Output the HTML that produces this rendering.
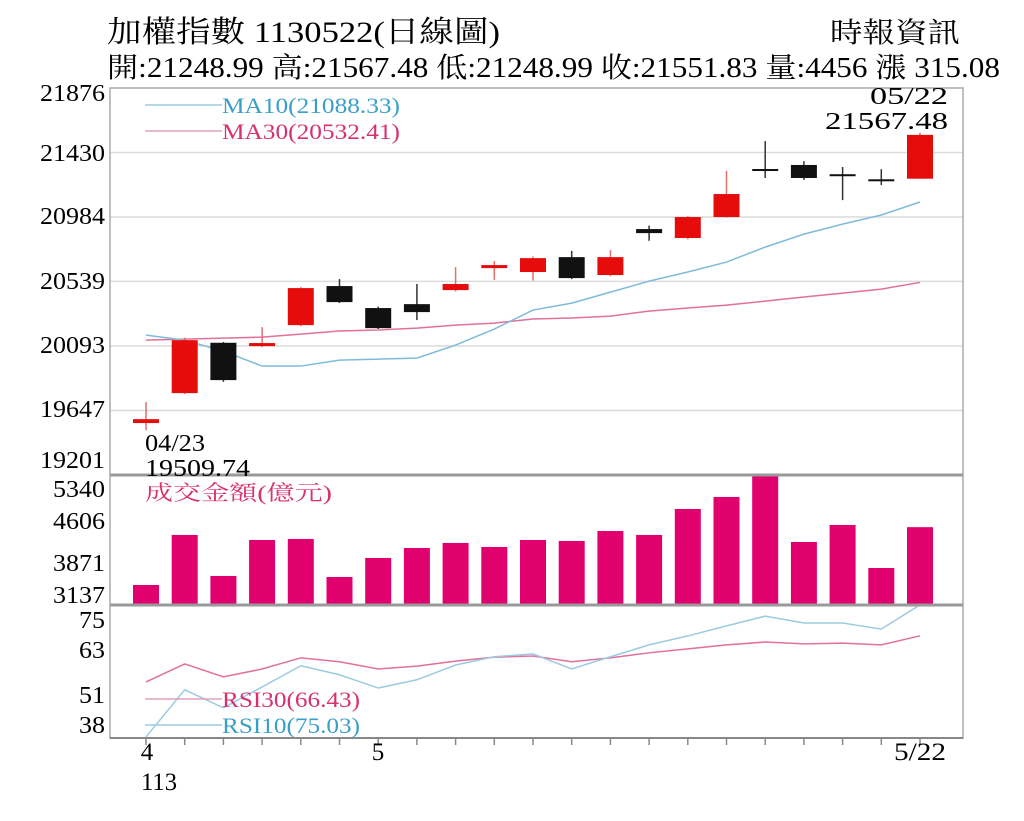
<!DOCTYPE html>
<html><head><meta charset="utf-8"><style>
html,body{margin:0;padding:0;background:#fff;}
svg{display:block;font-family:"Liberation Serif","Noto Serif CJK SC","Noto Sans CJK TC",serif;}
</style></head><body>
<svg id="c" width="1024" height="821" viewBox="0 0 1024 821" xmlns="http://www.w3.org/2000/svg">
<text x="107" y="42" font-size="30" textLength="393" lengthAdjust="spacingAndGlyphs">加權指數 1130522(日線圖)</text>
<text x="830" y="42" font-size="28" textLength="130" lengthAdjust="spacingAndGlyphs">時報資訊</text>
<text x="107" y="77" font-size="28" textLength="893" lengthAdjust="spacingAndGlyphs">開:21248.99 高:21567.48 低:21248.99 收:21551.83 量:4456 漲 315.08</text>
<g id="grid"></g>
<g id="marks"></g>
<g id="frame"></g>
<g id="labels"></g>
</svg>
<script>
const dates=["04/23","04/24","04/25","04/26","04/29","04/30","05/02","05/03","05/06","05/07","05/08","05/09","05/10","05/13","05/14","05/15","05/16","05/17","05/20","05/21","05/22"];
const openV=[19560,19767,20115,20092,20237,20507,20355,20382,20479,20631,20604,20707,20583,20901,20839,20984,21316,21344,21280,21245,21249];
const highV=[19705,20150,20120,20223,20500,20555,20365,20521,20638,20680,20712,20750,20755,20925,20990,21302,21509,21370,21330,21315,21567];
const lowV=[19510,19760,19845,20085,20230,20390,20210,20272,20470,20550,20545,20555,20575,20820,20830,20980,21254,21240,21101,21205,21249];
const closeV=[19587,20133,19857,20113,20493,20396,20216,20327,20521,20652,20700,20562,20707,20873,20984,21143,21309,21254,21275,21240,21552];
const ma10=[20168,20133,20057,19954,19954,19995,20002,20009,20099,20210,20341,20389,20465,20541,20604,20673,20776,20866,20935,20998,21088];
const ma30=[20133,20140,20147,20154,20175,20196,20203,20216,20237,20251,20279,20286,20299,20334,20355,20375,20403,20431,20458,20486,20532];
const volume=[3476,4324,3629,4239,4256,3612,3934,4103,4188,4120,4239,4222,4391,4324,4764,4968,5340,4205,4493,3764,4456];
const rsi30=[53.6,58.6,55,57.2,60.3,59.2,57.2,58,59.4,60.5,60.8,59.2,60.3,61.7,62.8,63.9,64.7,64.2,64.4,63.9,66.43];
const rsi10=[38.3,51.4,46.4,52.2,58.1,55.6,51.9,54.2,58.3,60.6,61.4,57.2,60.6,63.9,66.4,69.2,71.9,70,70,68.3,75.03];
const priceTicks=[21876,21430,20984,20539,20093,19647,19201];
const volTicks=[5340,4606,3871,3137];
const rsiTicks=[75,63,51,38];

const NS="http://www.w3.org/2000/svg";
const L=110,R=963;
const xS=i=>146+i*(920-146)/(dates.length-1);
const yP=v=>88+(21876-v)*(475-88)/(21876-19201);
const yV=v=>605-(v-3137)*(605-475)/(5340-3137);
const yR=v=>605+(75-v)*(738-605)/(75-38);
function mk(tag,attrs,parent){const e=document.createElementNS(NS,tag);for(const k in attrs)e.setAttribute(k,attrs[k]);parent.appendChild(e);return e;}
const grid=document.getElementById('grid'),marks=document.getElementById('marks'),frame=document.getElementById('frame'),labels=document.getElementById('labels');
function tick(t,y,name){
  const s=String(t);
  const tx=mk('text',{x:105-13*s.length,y:y,'font-size':24,textLength:13*s.length,lengthAdjust:'spacingAndGlyphs'},labels);tx.textContent=s;
  
  
}
priceTicks.forEach((t,i)=>{
  if(i>0&&i<priceTicks.length-1){const g=mk('line',{x1:L,x2:R,y1:yP(t),y2:yP(t),stroke:'#dcdcdc','stroke-width':1.5},grid);
  
  }
  tick(t,[101,161,224,289,353,417,468][i],'price-tick-label');
});
volTicks.forEach((t,i)=>tick(t,[497,529,571,603][i],'volume-tick-label'));
rsiTicks.forEach((t,i)=>tick(t,[628,658,703,733][i],'rsi-tick-label'));

mk('rect',{x:L,y:88,width:R-L,height:650,fill:'none',stroke:'#aaa','stroke-width':1.5},frame);
mk('line',{x1:L,x2:R,y1:475,y2:475,stroke:'#999','stroke-width':3},frame);
mk('line',{x1:L,x2:R,y1:605,y2:605,stroke:'#999','stroke-width':3},frame);
mk('line',{x1:L,x2:R,y1:738,y2:738,stroke:'#888','stroke-width':2},frame);
dates.forEach((d,i)=>{const t=mk('line',{x1:xS(i),x2:xS(i),y1:738,y2:745,stroke:'#888','stroke-width':1.5},frame);
  
  });

volume.forEach((v,i)=>{
  const r=mk('rect',{x:xS(i)-13,y:yV(v),width:26,height:605-yV(v),fill:'#e0006e'},marks);
  
  
});

function line(arr,fy,color,name){
  const p=mk('polyline',{points:arr.map((v,i)=>xS(i)+','+fy(v)).join(' '),fill:'none',stroke:color,'stroke-width':1.5},marks);
  
  
}
line(ma30,yP,'#e2709a','ma30-line');
line(ma10,yP,'#7fbbd9','ma10-line');
line(rsi30,yR,'#e2709a','rsi30-line');
line(rsi10,yR,'#9ccbe0','rsi10-line');

dates.forEach((d,i)=>{
  const up=closeV[i]>=openV[i];
  const col=up?'#e60c0c':'#111';
  const wc=up?'#e2706a':'#333';
  const w=mk('line',{x1:xS(i),x2:xS(i),y1:yP(highV[i]),y2:yP(lowV[i]),stroke:wc,'stroke-width':1.5},marks);
  
  
  const top=yP(Math.max(openV[i],closeV[i])),bot=yP(Math.min(openV[i],closeV[i]));
  const b=mk('rect',{x:xS(i)-13,y:top,width:26,height:Math.max(bot-top,2),fill:col},marks);
  
  
});
</script>
<script>
const lb=document.getElementById('labels');
lb.insertAdjacentHTML('beforeend',`
<line x1="145" x2="222" y1="105" y2="105" stroke="#9ccbe0" stroke-width="1.5"/>
<text x="222" y="113" font-size="22" fill="#3a9fc7" textLength="178" lengthAdjust="spacingAndGlyphs">MA10(21088.33)</text>
<line x1="145" x2="222" y1="131" y2="131" stroke="#e2a0b8" stroke-width="1.5"/>
<text x="222" y="139" font-size="22" fill="#d6306e" textLength="178" lengthAdjust="spacingAndGlyphs">MA30(20532.41)</text>
<text x="870" y="104" font-size="24" textLength="78" lengthAdjust="spacingAndGlyphs">05/22</text>
<text x="825" y="129" font-size="24" textLength="123" lengthAdjust="spacingAndGlyphs">21567.48</text>
<text x="145" y="451" font-size="24" textLength="60" lengthAdjust="spacingAndGlyphs">04/23</text>
<text x="145" y="476" font-size="24" textLength="105" lengthAdjust="spacingAndGlyphs">19509.74</text>
<text x="145" y="500" font-size="21" fill="#d6306e" textLength="187" lengthAdjust="spacingAndGlyphs">成交金額(億元)</text>
<line x1="145" x2="222" y1="699" y2="699" stroke="#e2a0b8" stroke-width="1.5"/>
<text x="222" y="707" font-size="22" fill="#d6306e" textLength="138" lengthAdjust="spacingAndGlyphs">RSI30(66.43)</text>
<line x1="145" x2="222" y1="725" y2="725" stroke="#9ccbe0" stroke-width="1.5"/>
<text x="222" y="733" font-size="22" fill="#3a9fc7" textLength="138" lengthAdjust="spacingAndGlyphs">RSI10(75.03)</text>
<text x="147" y="760" font-size="25" text-anchor="middle">4</text>
<text x="141" y="790" font-size="25" textLength="36" lengthAdjust="spacingAndGlyphs">113</text>
<text x="378" y="760" font-size="25" text-anchor="middle">5</text>
<text x="894" y="760" font-size="25" textLength="52" lengthAdjust="spacingAndGlyphs">5/22</text>
`);
</script>
</body></html>
